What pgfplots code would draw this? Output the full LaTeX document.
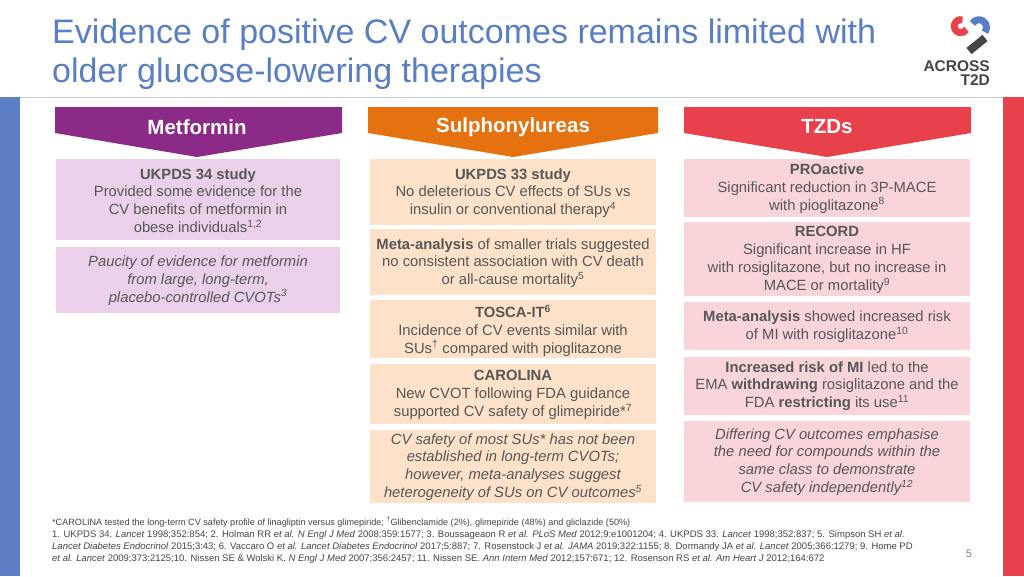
\documentclass[border=0pt]{standalone}
\usepackage{pgfplots}
\pgfplotsset{compat=1.18}
\usepackage{fontspec}
\setmainfont{Liberation Sans}
\definecolor{titleblue}{HTML}{5A7EC5}
\definecolor{stripblue}{HTML}{5B7EC4}
\definecolor{stripred}{HTML}{E8414B}
\definecolor{metpurple}{HTML}{8C2B87}
\definecolor{suorange}{HTML}{E5720E}
\definecolor{tzdred}{HTML}{E8414B}
\definecolor{lpurple}{HTML}{EBD0EA}
\definecolor{lorange}{HTML}{FDE1C8}
\definecolor{lpink}{HTML}{F9D4D9}
\definecolor{bodygrey}{HTML}{575757}
\definecolor{footgrey}{HTML}{444444}
\definecolor{logogrey}{HTML}{454545}
\tikzset{
  body/.style={align=center,text=bodygrey,font=\fontsize{14.8}{17.8}\selectfont,inner sep=0pt},
  foot/.style={anchor=base west,text=footgrey,font=\fontsize{9.5}{12}\selectfont,inner sep=0pt}}
\newcommand\rect[5]{\addplot[fill=#5,draw=none,forget plot] coordinates {(#1,#2)(#3,#2)(#3,#4)(#1,#4)};}
\newcommand\chev[4]{\addplot[fill=#4,draw=none,forget plot] coordinates {(#1,107)(#2,107)(#2,133)(#3,157)(#1,133)};}
\begin{document}
\begin{tikzpicture}
\begin{axis}[width=1024pt,height=576pt,scale only axis,xmin=0,xmax=1024,ymin=0,ymax=576,y dir=reverse,hide axis,clip=false]
% background
\rect{0}{0}{1024}{576}{white}
% strips and rule
\rect{0}{97}{20}{576}{stripblue}
\rect{1003}{97}{1024}{576}{stripred}
\addplot[draw=black!20,line width=1pt,forget plot] coordinates {(20,97.5)(1003,97.5)};
% title
\node[anchor=base west,text=titleblue,font=\fontsize{34}{40}\selectfont,inner sep=0pt] at (axis cs:52,43) {Evidence of positive CV outcomes remains limited with};
\node[anchor=base west,text=titleblue,font=\fontsize{34}{40}\selectfont,inner sep=0pt] at (axis cs:52,82) {older glucose-lowering therapies};
% logo
\draw[stripred,line width=7pt] (axis cs:962.5,19.9) arc[start angle=75,end angle=330,radius=6.5pt];
\draw[titleblue,line width=7pt] (axis cs:972.5,23.5) arc[start angle=150,end angle=-40,radius=7.5pt];
\draw[logogrey,line width=8pt] (axis cs:985,38) -- (axis cs:969,51);
\node[text=logogrey,font=\fontsize{15.5}{15}\bfseries\selectfont,inner sep=0pt,anchor=base east] at (axis cs:990,71.5) {ACROSS};
\node[text=logogrey,font=\fontsize{15.5}{15}\bfseries\selectfont,inner sep=0pt,anchor=base east] at (axis cs:990,85.5) {T2D};
% chevrons
\chev{55}{342}{197}{metpurple}
\chev{368}{658}{513}{suorange}
\chev{684}{971}{827}{tzdred}
\node[text=white,font=\fontsize{20.5}{24}\bfseries\selectfont] at (axis cs:197,127) {Metformin};
\node[text=white,font=\fontsize{20.5}{24}\bfseries\selectfont] at (axis cs:513,127) {Sulphonylureas};
\node[text=white,font=\fontsize{20.5}{24}\bfseries\selectfont] at (axis cs:827,127) {TZDs};
% metformin boxes
\rect{56}{159}{340}{240}{lpurple}
\rect{56}{247}{340}{313}{lpurple}
\node[body] at (axis cs:198,200.5) {\textbf{UKPDS 34 study}\\Provided some evidence for the\\CV benefits of metformin in\\obese individuals\textsuperscript{1,2}};
\node[body,font=\fontsize{14.8}{17.8}\itshape\selectfont] at (axis cs:198,280.5) {Paucity of evidence for metformin\\from large, long-term,\\placebo-controlled CVOTs\textsuperscript{3}};
% SU boxes
\rect{370}{159}{656}{225}{lorange}
\rect{370}{229}{656}{295}{lorange}
\rect{370}{300}{656}{358}{lorange}
\rect{370}{364}{656}{424}{lorange}
\rect{370}{430}{656}{503}{lorange}
\node[body] at (axis cs:513,193) {\textbf{UKPDS 33 study}\\No deleterious CV effects of SUs vs\\insulin or conventional therapy\textsuperscript{4}};
\node[body] at (axis cs:513,263) {\textbf{Meta-analysis} of smaller trials suggested\\no consistent association with CV death\\or all-cause mortality\textsuperscript{5}};
\node[body] at (axis cs:513,330.5) {\textbf{TOSCA-IT\textsuperscript{6}}\\Incidence of CV events similar with\\SUs\textsuperscript{\textdagger} compared with pioglitazone};
\node[body] at (axis cs:513,395) {\textbf{CAROLINA}\\New CVOT following FDA guidance\\supported CV safety of glimepiride*\textsuperscript{7}};
\node[body,font=\fontsize{14.8}{17.8}\itshape\selectfont] at (axis cs:513,467) {CV safety of most SUs* has not been\\established in long-term CVOTs;\\however, meta-analyses suggest\\heterogeneity of SUs on CV outcomes\textsuperscript{5}};
% TZD boxes
\rect{684}{159}{970}{217}{lpink}
\rect{684}{222}{970}{296}{lpink}
\rect{684}{302}{970}{350}{lpink}
\rect{684}{357}{970}{415}{lpink}
\rect{684}{421}{970}{502}{lpink}
\node[body] at (axis cs:827,188.5) {\textbf{PROactive}\\Significant reduction in 3P-MACE\\with pioglitazone\textsuperscript{8}};
\node[body] at (axis cs:827,260) {\textbf{RECORD}\\Significant increase in HF\\with rosiglitazone, but no increase in\\MACE or mortality\textsuperscript{9}};
\node[body] at (axis cs:827,327) {\textbf{Meta-analysis} showed increased risk\\of MI with rosiglitazone\textsuperscript{10}};
\node[body] at (axis cs:827,386) {\textbf{Increased risk of MI} led to the\\EMA \textbf{withdrawing} rosiglitazone and the\\FDA \textbf{restricting} its use\textsuperscript{11}};
\node[body,font=\fontsize{14.8}{17.8}\itshape\selectfont] at (axis cs:827,462) {Differing CV outcomes emphasise\\the need for compounds within the\\same class to demonstrate\\CV safety independently\textsuperscript{12}};
% footnotes
\node[foot,font=\fontsize{9.1}{12}\selectfont] at (axis cs:52,525) {*CAROLINA tested the long-term CV safety profile of linagliptin versus glimepiride; \textsuperscript{\textdagger}Glibenclamide (2\%), glimepiride (48\%) and gliclazide (50\%)};
\node[foot] at (axis cs:52,537) {1. UKPDS 34. \textit{Lancet} 1998;352:854; 2. Holman RR \textit{et al. N Engl J Med} 2008;359:1577; 3. Boussageaon R \textit{et al. PLoS Med} 2012;9:e1001204; 4. UKPDS 33. \textit{Lancet} 1998;352:837; 5. Simpson SH \textit{et al.}};
\node[foot] at (axis cs:52,549) {\textit{Lancet Diabetes Endocrinol} 2015;3:43; 6. Vaccaro O \textit{et al. Lancet Diabetes Endocrinol} 2017;5:887; 7. Rosenstock J \textit{et al. JAMA} 2019;322:1155; 8. Dormandy JA \textit{et al. Lancet} 2005;366:1279; 9. Home PD};
\node[foot] at (axis cs:52,561) {\textit{et al. Lancet} 2009;373:2125;10. Nissen SE \& Wolski K. \textit{N Engl J Med} 2007;356:2457; 11. Nissen SE. \textit{Ann Intern Med} 2012;157:671; 12. Rosenson RS \textit{et al. Am Heart J} 2012;164:672};
\node[text=black!50,font=\fontsize{11}{12}\selectfont,inner sep=0pt] at (axis cs:969,554) {5};
\end{axis}
\end{tikzpicture}
\end{document}
